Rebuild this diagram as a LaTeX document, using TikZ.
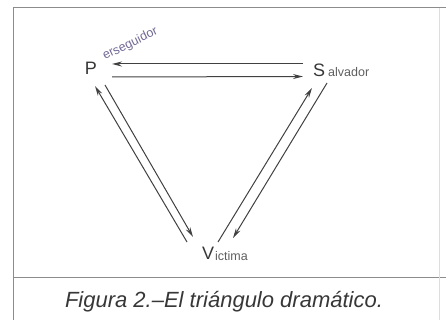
\documentclass[tikz,border=0pt]{standalone}
\usepackage{fontspec}
\setmainfont{Liberation Sans}
\usepackage{tikz}
\usetikzlibrary{arrows.meta}
\definecolor{DrGray}{RGB}{65,65,65}
\definecolor{DrText}{RGB}{55,55,55}
\definecolor{DrLavender}{RGB}{115,105,150}
\definecolor{DrFrame}{RGB}{140,140,140}

\begin{document}
\begin{tikzpicture}[x=1pt, y=-1pt,
    rolebig/.style={font=\fontsize{18}{18}\selectfont, DrText, inner sep=0pt},
    rolesmall/.style={font=\fontsize{12.5}{12.5}\selectfont, DrGray!85, inner sep=0pt, anchor=base west},
    move/.style={DrGray, line width=1pt, -{Stealth[length=10pt, width=5pt]}}]
        \useasboundingbox (0,0) rectangle (446,320);

        % Frame and caption rule
        \draw[DrFrame, line width=1pt] (13,320) -- (13,8) -- (446,8);
        \draw[DrFrame, line width=1pt] (13,277) -- (446,277);
        \draw[DrFrame!30, line width=0.6pt] (439,8) -- (439,320);

        % The three roles
        \node[rolebig] (P) at (91,68.5) {P};
        \node[rolesmall, DrLavender, rotate=26] (Prest) at (105,60) {erseguidor};
        \node[rolebig] (S) at (319,70.5) {S};
        \node[rolesmall] (Srest) at (328,77) {alvador};
        \node[rolebig] (V) at (208,253.5) {V};
        \node[rolesmall] (Vrest) at (215,260) {ictima};

        % Top pair
        \draw[move] ([shift={(-16,-6.5)}]S.center) -- ([shift={(21,-4.5)}]P.center);
        \draw[move] ([shift={(21,8.5)}]P.center) -- ([shift={(-16,6)}]S.center);

        % Left pair
        \draw[move] ([shift={(-21,-11.5)}]V.center) -- ([shift={(4,17.5)}]P.center);
        \draw[move] ([shift={(14,16.5)}]P.center) -- ([shift={(-15,-16.5)}]V.center);

        % Right pair
        \draw[move] ([shift={(10,-11.5)}]V.center) -- ([shift={(-7,17.5)}]S.center);
        \draw[move] ([shift={(8,12.5)}]S.center) -- ([shift={(25,-15.5)}]V.center);

        % Caption
        \node[font=\fontsize{22}{22}\selectfont\itshape, DrText, anchor=base] (caption)
              at (224,307) {Figura 2.–El triángulo dramático.};
      \end{tikzpicture}
\end{document}
